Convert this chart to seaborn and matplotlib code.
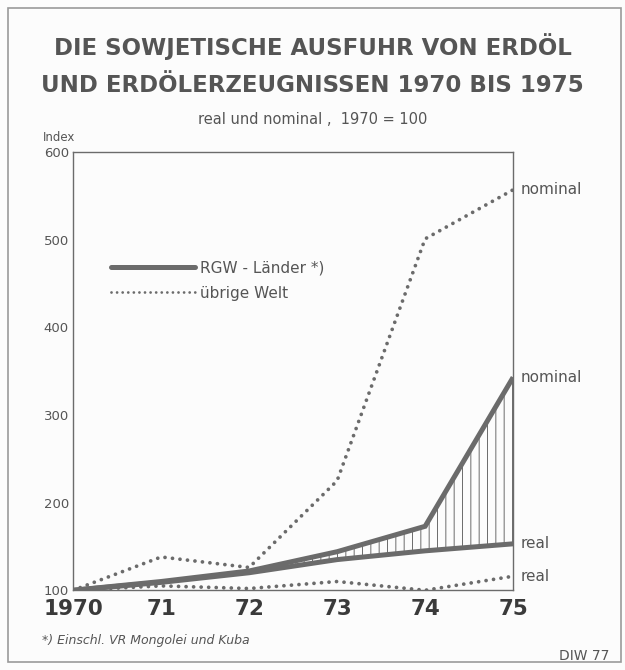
import matplotlib
matplotlib.use("Agg")
import matplotlib.pyplot as plt
import numpy as np
import pandas as pd
import seaborn as sns
from matplotlib.lines import Line2D
from matplotlib.patches import Rectangle

# data (index, 1970 = 100)
years = [1970, 1971, 1972, 1973, 1974, 1975]
year_labels = ["1970", "71", "72", "73", "74", "75"]
rgw_nominal = [100, 110, 122, 144, 173, 343]
rgw_real = [100, 109, 120, 135, 145, 153]
welt_nominal = [100, 138, 126, 225, 501, 557]
welt_real = [100, 105, 102, 110, 100, 116]

GREY = "#6b6b6b"
TEXT = "#555555"
BG = "#fcfcfc"

sns.set_theme(style="white")
plt.rcParams["font.family"] = ["DejaVu Sans"]
plt.rcParams["hatch.color"] = GREY
plt.rcParams["hatch.linewidth"] = 0.7

df = pd.DataFrame({
    "year": years * 4,
    "index": rgw_nominal + rgw_real + welt_nominal + welt_real,
    "series": (["rgw_nominal"] * 6 + ["rgw_real"] * 6
               + ["welt_nominal"] * 6 + ["welt_real"] * 6),
})

fig = plt.figure(figsize=(6.25, 6.7), dpi=100, facecolor=BG)
ax = fig.add_axes([0.117, 0.119, 0.704, 0.654], facecolor=BG)

dot_style = (0, (0.01, 2.0))
for name in ["rgw_nominal", "rgw_real"]:
    sub = df[df["series"] == name]
    sns.lineplot(data=sub, x="year", y="index", ax=ax, color=GREY,
                 linewidth=3.6, solid_capstyle="butt", solid_joinstyle="miter",
                 legend=False)
for name in ["welt_nominal", "welt_real"]:
    sub = df[df["series"] == name]
    sns.lineplot(data=sub, x="year", y="index", ax=ax, color=GREY,
                 linewidth=2.7, linestyle=dot_style, dash_capstyle="round",
                 legend=False)

# hatched gap between nominal and real (RGW)
yr = np.array(years, dtype=float)
ax.fill_between(yr, rgw_real, rgw_nominal, where=yr >= 1972,
                facecolor="none", edgecolor=GREY, hatch="||", linewidth=0)

ax.set_xlim(1970, 1975)
ax.set_ylim(100, 600)
ax.set_xticks(years)
ax.set_xticklabels(year_labels)
ax.set_yticks([100, 200, 300, 400, 500, 600])
ax.set_xlabel("")
ax.set_ylabel("")
for s in ax.spines.values():
    s.set_color(GREY)
    s.set_linewidth(1.0)
ax.tick_params(axis="y", direction="in", length=6, width=1.0, color=GREY,
               labelsize=9.5, labelcolor=TEXT, pad=3)
ax.tick_params(axis="x", direction="in", length=11, width=1.0, color=GREY,
               labelsize=15.5, labelcolor="#3a3a3a", pad=6)
for lbl in ax.get_xticklabels():
    lbl.set_fontweight("bold")

# legend
handles = [
    Line2D([], [], color=GREY, linewidth=3.6, solid_capstyle="round"),
    Line2D([], [], color=GREY, linewidth=2.0, linestyle=(0, (0.01, 2.0)),
           dash_capstyle="round"),
]
ax.legend(handles, ["RGW - Länder *)", "übrige Welt"], loc="upper left",
          bbox_to_anchor=(0.055, 0.785), frameon=False, handlelength=5.5,
          handletextpad=0.3, labelspacing=0.7, fontsize=11, labelcolor=TEXT)

# end labels
end_x = 1975.08
for val, txt in [(welt_nominal[-1], "nominal"), (rgw_nominal[-1], "nominal"),
                 (rgw_real[-1], "real"), (welt_real[-1], "real")]:
    ax.text(end_x, val, txt, fontsize=11, color=TEXT, va="center", ha="left",
            clip_on=False)

# titles and notes
fig.text(0.5, 0.930, "DIE SOWJETISCHE AUSFUHR VON ERDÖL", ha="center",
         va="center", fontsize=16.5, fontweight="bold", color=TEXT)
fig.text(0.5, 0.872, "UND ERDÖLERZEUGNISSEN 1970 BIS 1975", ha="center",
         va="center", fontsize=16.5, fontweight="bold", color=TEXT)
fig.text(0.5, 0.821, "real und nominal ,  1970 = 100", ha="center",
         va="center", fontsize=10.5, color=TEXT)
fig.text(0.068, 0.795, "Index", ha="left", va="center", fontsize=8.5,
         color=TEXT)
fig.text(0.068, 0.044, "*) Einschl. VR Mongolei und Kuba", ha="left",
         va="center", fontsize=9, fontstyle="italic", color=TEXT)
fig.text(0.975, 0.021, "DIW 77", ha="right", va="center", fontsize=10,
         color=TEXT)

fig.patches.append(Rectangle((0.013, 0.012), 0.98, 0.976,
                             transform=fig.transFigure, fill=False,
                             edgecolor="#9a9a9a", linewidth=1.2))

fig.savefig("out.png", dpi=100, facecolor=BG)
